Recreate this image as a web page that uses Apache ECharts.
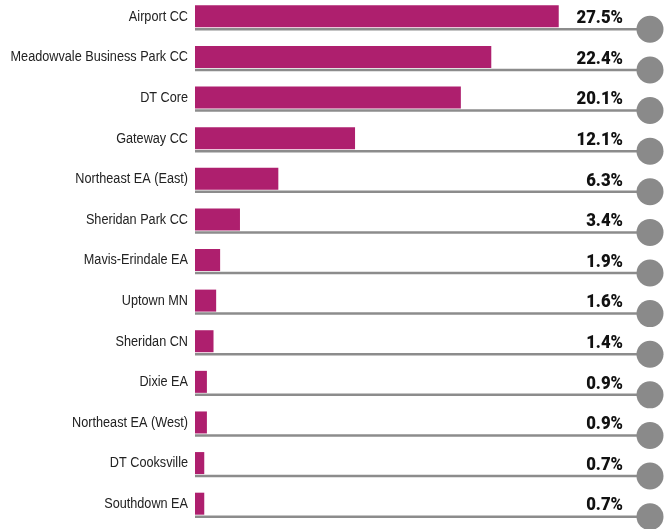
<!DOCTYPE html>
<html>
<head>
<meta charset="utf-8">
<script src="https://cdn.jsdelivr.net/npm/echarts@6/dist/echarts.min.js"></script>
<style>html,body{margin:0;padding:0;background:#fff}#c{width:670px;height:529px}</style>
</head>
<body>
<div id="c"></div>
<script>
const categories = ["Airport CC","Meadowvale Business Park CC","DT Core","Gateway CC","Northeast EA (East)","Sheridan Park CC","Mavis-Erindale EA","Uptown MN","Sheridan CN","Dixie EA","Northeast EA (West)","DT Cooksville","Southdown EA"];
const values = [27.5,22.4,20.1,12.1,6.3,3.4,1.9,1.6,1.4,0.9,0.9,0.7,0.7];
const valueLabels = ["27.5%","22.4%","20.1%","12.1%","6.3%","3.4%","1.9%","1.6%","1.4%","0.9%","0.9%","0.7%","0.7%"];
const axisMax = 34.4;
const FONT = "'Liberation Sans',Arial,sans-serif";
const VFONT = "Roboto,'DejaVu Sans',sans-serif";

const chart = echarts.init(document.getElementById('c'), null, {renderer:'canvas'});
chart.setOption({
  animation:false,
  grid:{left:195,right:20,top:-4,bottom:5,containLabel:false,outerBoundsMode:'none'},
  xAxis:{type:'value',min:0,max:axisMax,show:false},
  yAxis:{type:'category',data:categories,inverse:true,
    axisLine:{show:false},axisTick:{show:false},splitLine:{show:false},
    axisLabel:{show:false}},
  series:[
    {type:'custom',z:1,
     data: values.map((v,i)=>[v,i]),
     encode:{x:0,y:1},
     renderItem:function(params,api){
       const i = api.value(1);
       const p0 = api.coord([0,i]);
       const p1 = api.coord([axisMax,i]);
       const yl = p0[1]+13;
       const lx = p0[0]-7;
       const vx = p1[0]-27;
       return {type:'group',children:[
         {type:'line',shape:{x1:p0[0],y1:yl,x2:p1[0],y2:yl},style:{stroke:'#8c8c8c',lineWidth:2.5}},
         {type:'circle',shape:{cx:p1[0],cy:yl,r:13.5},style:{fill:'#8a8a8a'}},
         {type:'text',x:lx,y:p0[1]+0.5,scaleX:0.905,style:{text:categories[i],x:0,y:0,align:'right',verticalAlign:'middle',
           fill:'#222',fontSize:14,fontFamily:FONT}},
         {type:'text',x:vx,y:p0[1]+2,scaleX:0.88,style:{text:valueLabels[i],x:0,y:0,align:'right',verticalAlign:'middle',
           fill:'#111',fontSize:19,fontWeight:900,fontFamily:VFONT}}
       ]};
     }},
    {type:'bar',z:2,data:values,barWidth:22,itemStyle:{color:'#AE1F6E'},silent:true}
  ]
});
</script>
</body>
</html>
